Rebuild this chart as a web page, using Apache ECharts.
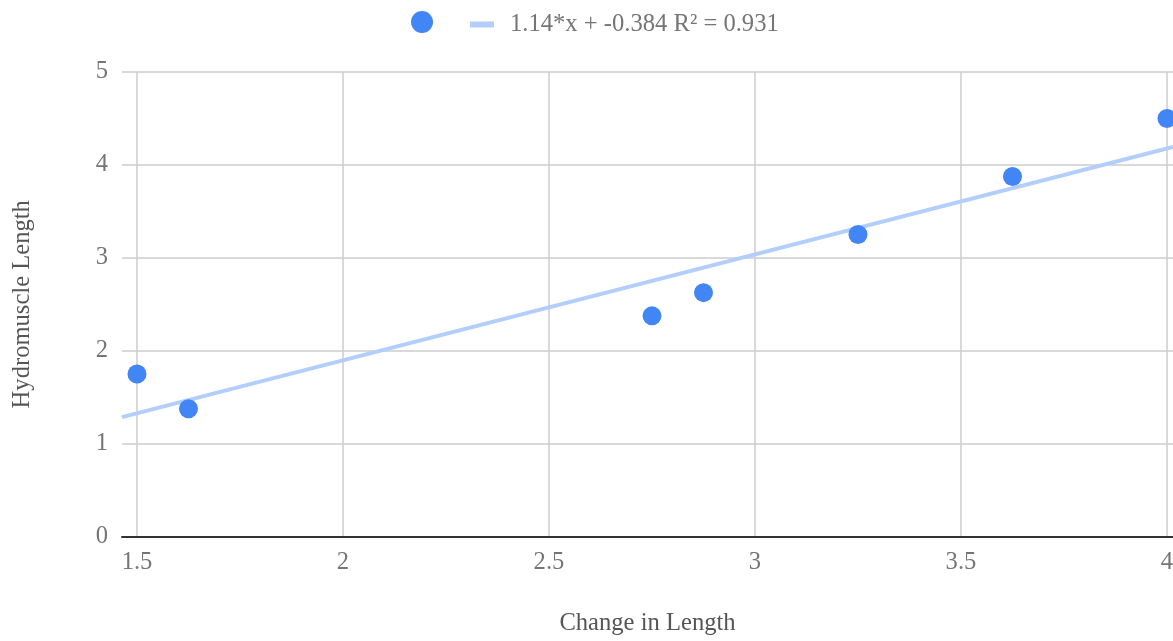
<!DOCTYPE html>
<html>
<head>
<meta charset="utf-8">
<script src="https://cdn.jsdelivr.net/npm/echarts@6/dist/echarts.min.js"></script>
<style>
html,body{margin:0;padding:0;background:#fff;}
#chart{width:1173px;height:641px;}
</style>
</head>
<body>
<div id="chart"></div>
<script>
// Data
var changeInLength = [1.5, 1.625, 2.75, 2.875, 3.25, 3.625, 4.0];
var hydromuscleLength = [1.75, 1.375, 2.375, 2.625, 3.25, 3.875, 4.5];
var trendSlope = 1.14;
var trendIntercept = -0.384;
var trendLabel = '1.14*x + -0.384 R\u00b2 = 0.931';
var xTicks = [1.5, 2, 2.5, 3, 3.5, 4];
var yTicks = [0, 1, 2, 3, 4, 5];
var xName = 'Change in Length';
var yName = 'Hydromuscle Length';

var xMin = 1.4636, xMax = 4.0146;

var points = changeInLength.map(function (x, i) { return [x, hydromuscleLength[i]]; });
var trend = [xMin, xMax].map(function (x) { return [x, trendSlope * x + trendIntercept]; });

var FONT = '"Liberation Serif", "Times New Roman", serif';
var FS = 24.6;
var chart = echarts.init(document.getElementById('chart'), null, {renderer: 'canvas'});
chart.setOption({
  animation: false,
  backgroundColor: '#fff',
  grid: {left: 122, top: 72, right: 0, bottom: 104.5, containLabel: false, outerBoundsMode: 'none'},
  legend: [
    {
      left: 411, top: 11, padding: 0, itemWidth: 22, itemHeight: 22, itemGap: 0,
      data: [{name: 'pts', icon: 'circle'}],
      formatter: function () { return ''; },
      textStyle: {fontSize: 1},
      selectedMode: false
    },
    {
      left: 470, top: 12, padding: 0, itemWidth: 24, itemHeight: 6,
      data: [{name: trendLabel, icon: 'rect'}],
      textStyle: {fontFamily: FONT, fontSize: FS, color: '#757575', padding: [0, 0, 0, 11]},
      selectedMode: false
    }
  ],
  xAxis: {
    type: 'value', min: xMin, max: xMax,
    name: xName, nameLocation: 'middle', nameGap: 75,
    nameTextStyle: {fontFamily: FONT, fontSize: FS, color: '#555'},
    axisLine: {show: true, onZero: false, lineStyle: {color: '#333', width: 2}},
    axisTick: {show: false},
    axisLabel: {
      fontFamily: FONT, fontSize: FS, color: '#757575', margin: 14,
      showMinLabel: false,
      formatter: function (v) {
        for (var i = 0; i < xTicks.length; i++) if (Math.abs(v - xTicks[i]) < 1e-6) return String(xTicks[i]);
        return '';
      }
    },
    splitLine: {show: true, showMinLine: false, showMaxLine: false, lineStyle: {color: '#cccccc', width: 1.5}}
  },
  yAxis: {
    type: 'value', min: yTicks[0], max: yTicks[yTicks.length - 1], interval: 1,
    name: yName, nameLocation: 'middle', nameGap: 87,
    nameTextStyle: {fontFamily: FONT, fontSize: FS, color: '#555'},
    axisLine: {show: false},
    axisTick: {show: false},
    axisLabel: {fontFamily: FONT, fontSize: FS, color: '#757575', margin: 14},
    splitLine: {show: true, lineStyle: {color: '#cccccc', width: 1.5}}
  },
  series: [
    {
      name: trendLabel, type: 'line', data: trend, showSymbol: false, symbol: 'none',
      lineStyle: {color: '#b3cefb', width: 4}, itemStyle: {color: '#b3cefb'}, z: 2, silent: true
    },
    {
      name: 'pts', type: 'scatter', data: points, symbolSize: 19,
      itemStyle: {color: '#4285F4', opacity: 1}, z: 3
    }
  ]
});
</script>
</body>
</html>
